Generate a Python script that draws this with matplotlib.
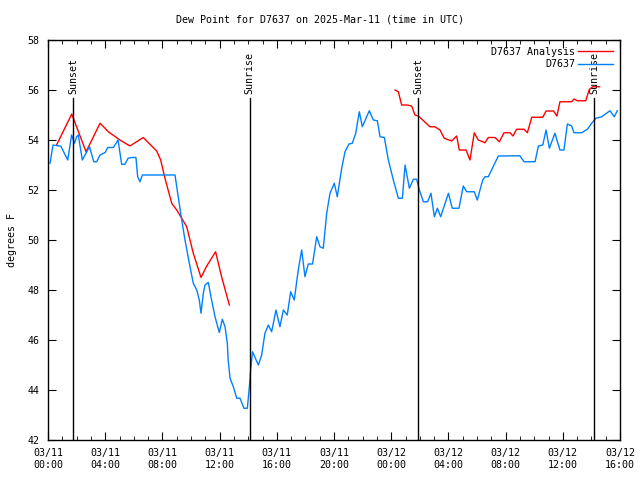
import numpy as np
import matplotlib
matplotlib.use('Agg')
import matplotlib.pyplot as plt
from matplotlib.ticker import MultipleLocator

# hours since 03/11 00:00 UTC
obs_hours = [0.14, 0.35, 0.9, 1.38, 1.65, 1.85, 2.0, 2.12, 2.4, 2.9, 3.2, 3.4, 3.64, 4.0, 4.17,
             4.57, 4.9, 5.15, 5.38, 5.6, 5.85, 6.15, 6.27, 6.43, 6.6, 7.95, 8.88, 9.35, 9.58,
             9.93, 10.16, 10.4, 10.58, 10.7, 10.86, 10.98, 11.21, 11.44, 11.68, 11.98, 12.19,
             12.38, 12.54, 12.6, 12.73, 12.96, 13.2, 13.43, 13.7, 13.94, 14.08, 14.17, 14.3,
             14.71, 14.94, 15.17, 15.41, 15.64, 15.94, 16.22, 16.46, 16.73, 16.97, 17.22, 17.5,
             17.74, 17.97, 18.2, 18.5, 18.79, 19.02, 19.25, 19.49, 19.72, 20.02, 20.23, 20.54,
             20.77, 21.05, 21.28, 21.52, 21.77, 21.98, 22.47, 22.75, 23.03, 23.22, 23.52, 23.8,
             24.15, 24.5, 24.78, 24.97, 25.27, 25.55, 25.78, 25.97, 26.25, 26.55, 26.78, 27.02,
             27.23, 27.46, 28.0, 28.27, 28.74, 29.04, 29.28, 29.81, 30.02, 30.4, 30.56, 30.79,
             31.49, 33.0, 33.29, 34.06, 34.29, 34.6, 34.83, 35.06, 35.45, 35.8, 36.08, 36.32,
             36.62, 36.78, 37.32, 37.72, 38.02, 38.32, 38.72, 39.3, 39.6, 39.81]
obs_dewpt = [53.07, 53.8, 53.75, 53.2, 54.2, 53.87, 54.13, 54.2, 53.2, 53.73, 53.13, 53.13, 53.4,
             53.5, 53.7, 53.7, 54.0, 53.03, 53.03, 53.27, 53.3, 53.3, 52.53, 52.33, 52.6, 52.6,
             52.6, 50.8, 50.0, 48.93, 48.27, 48.0, 47.6, 47.07, 47.87, 48.2, 48.3, 47.6, 46.93,
             46.3, 46.83, 46.53, 45.87, 45.2, 44.47, 44.13, 43.67, 43.67, 43.27, 43.27, 44.13,
             44.8, 45.53, 45.0, 45.4, 46.27, 46.6, 46.33, 47.2, 46.53, 47.2, 47.0, 47.93, 47.6,
             48.8, 49.6, 48.53, 49.04, 49.04, 50.13, 49.73, 49.67, 51.07, 51.87, 52.27, 51.73,
             52.87, 53.53, 53.84, 53.87, 54.27, 55.13, 54.53, 55.17, 54.8, 54.77, 54.13, 54.1,
             53.2, 52.4, 51.67, 51.67, 53.0, 52.07, 52.43, 52.43, 52.0, 51.53, 51.53, 51.87,
             50.93, 51.27, 50.93, 51.87, 51.27, 51.27, 52.16, 51.93, 51.93, 51.6, 52.4, 52.53,
             52.53, 53.36, 53.37, 53.13, 53.13, 53.76, 53.8, 54.4, 53.67, 54.27, 53.6, 53.6,
             54.64, 54.56, 54.29, 54.29, 54.43, 54.67, 54.87, 54.93, 55.17, 54.93, 55.17]

ana_hours = [0.6, 1.66, 2.66, 3.64, 4.22, 5.03, 5.73, 6.66, 7.6, 7.88, 8.18, 8.65, 9.0, 9.35,
             9.7, 10.16, 10.7, 11.1, 11.72, 12.14, 12.68, 18.0,
             24.27, 24.5, 24.73, 25.1, 25.43, 25.66, 25.9, 26.71, 27.06, 27.41, 27.71, 28.23,
             28.58, 28.76, 29.23, 29.51, 29.81, 30.09, 30.56, 30.79, 31.26, 31.56, 31.89, 32.31,
             32.52, 32.77, 33.29, 33.52, 33.83, 34.6, 34.83, 35.35, 35.59, 35.8, 36.62, 36.78,
             37.02, 37.6, 37.86, 38.1, 38.57]
ana_dewpt = [53.8, 55.04, 53.53, 54.67, 54.33, 54.0, 53.76, 54.1, 53.56, 53.2, 52.47, 51.47, 51.2,
             50.87, 50.53, 49.47, 48.5, 48.96, 49.53, 48.53, 47.4, np.nan,
             56.0, 55.93, 55.4, 55.4, 55.36, 55.0, 54.96, 54.53, 54.53, 54.4, 54.07, 53.96,
             54.16, 53.6, 53.6, 53.2, 54.29, 54.0, 53.89, 54.1, 54.1, 53.93, 54.29, 54.29,
             54.16, 54.43, 54.43, 54.29, 54.91, 54.91, 55.16, 55.16, 54.96, 55.53, 55.53, 55.64,
             55.57, 55.57, 56.03, 56.13, 56.13]

sun_hours = [1.75, 14.1, 25.87, 38.2]
sun_names = ['Sunset', 'Sunrise', 'Sunset', 'Sunrise']

tick_hours = [0, 4, 8, 12, 16, 20, 24, 28, 32, 36, 40]
tick_labels = ['03/11\n00:00', '03/11\n04:00', '03/11\n08:00', '03/11\n12:00', '03/11\n16:00',
               '03/11\n20:00', '03/12\n00:00', '03/12\n04:00', '03/12\n08:00', '03/12\n12:00',
               '03/12\n16:00']

plt.rcParams['font.family'] = 'DejaVu Sans Mono'
plt.rcParams['font.size'] = 7.2

fig = plt.figure(figsize=(6.4, 4.8), dpi=100)
ax = fig.add_axes([48 / 640, 40 / 480, 572 / 640, 400 / 480])

ax.plot(ana_hours, ana_dewpt, color='#ff0000', lw=1, label='D7637 Analysis')
ax.plot(obs_hours, obs_dewpt, color='#0080ff', lw=1, label='D7637')

for h, name in zip(sun_hours, sun_names):
    ax.plot([h, h], [42, 55.68], color='black', lw=1)
    ax.text(h, 55.84, name, rotation=90, ha='center', va='bottom')

ax.set_xlim(0, 40)
ax.set_ylim(42, 58)
ax.set_xticks(tick_hours)
ax.set_xticklabels(tick_labels)
ax.xaxis.set_minor_locator(MultipleLocator(1))
ax.yaxis.set_major_locator(MultipleLocator(2))
ax.tick_params(which='both', direction='in', top=True, right=True)
ax.tick_params(which='major', length=6, pad=6)
ax.tick_params(which='minor', length=3)
for s in ax.spines.values():
    s.set_linewidth(1)

ax.legend(loc='upper right', frameon=False, markerfirst=False, handlelength=3.5,
          borderaxespad=0.3, labelspacing=0.25, handletextpad=0.3)

fig.text(0.5, 1 - 19 / 480, 'Dew Point for D7637 on 2025-Mar-11 (time in UTC)',
         ha='center', va='center')
fig.text(12 / 640, 0.5, 'degrees F', rotation=90, ha='center', va='center')

fig.savefig('out.png', dpi=100)
